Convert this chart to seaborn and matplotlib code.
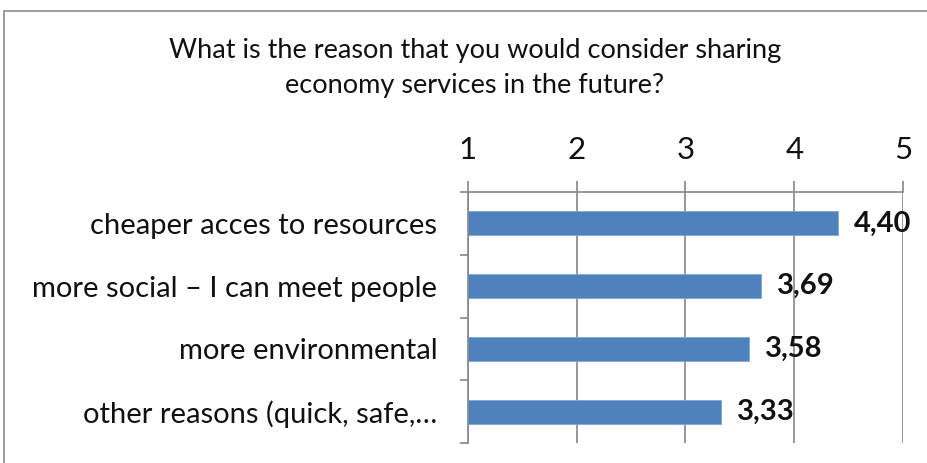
import matplotlib
matplotlib.use("Agg")
import matplotlib.pyplot as plt
import seaborn as sns
import pandas as pd
from matplotlib.patches import Rectangle
from matplotlib.ticker import FixedLocator

categories = ["cheaper acces to resources", "more social \u2013 I can meet people",
              "more environmental", "other reasons (quick, safe,\u2026"]
values = [4.40, 3.69, 3.58, 3.33]
value_labels = ["4,40", "3,69", "3,58", "3,33"]
x_ticks = [1, 2, 3, 4, 5]
title = "What is the reason that you would consider sharing\neconomy services in the future?"

sns.set_theme(style="white")
plt.rcParams["font.family"] = ["Lato", "DejaVu Sans"]

df = pd.DataFrame({"category": categories, "value": values})

fig = plt.figure(figsize=(9.28, 4.63), dpi=100)
ax = fig.add_axes([468 / 928, 1 - 443 / 463, (903 - 468) / 928, (443 - 192) / 463])

sns.barplot(data=df, x="value", y="category", orient="h", color="#4F81BD",
            saturation=1, width=0.38, edgecolor="#7EA6DA", linewidth=0.6, ax=ax)

ax.set_xlim(1, 5)
ax.set_ylim(3.5, -0.5)
ax.set_xticks(x_ticks)
ax.set_xticklabels([str(t) for t in x_ticks])
ax.xaxis.tick_top()
ax.grid(axis="x", color="#868686", linewidth=1.2)
ax.set_axisbelow(True)
ax.tick_params(axis="x", which="major", top=True, bottom=False, length=8, width=1.2,
               color="#868686", labelsize=22.5, pad=12, labelcolor="#111111")
ax.tick_params(axis="y", which="major", left=False, length=0, labelsize=21, pad=22,
               labelcolor="#111111")
ax.yaxis.set_minor_locator(FixedLocator([-0.5, 0.5, 1.5, 2.5, 3.5]))
ax.tick_params(axis="y", which="minor", left=True, length=6, width=1.2, color="#868686")
ax.set_xlabel("")
ax.set_ylabel("")
for s in ["right", "bottom"]:
    ax.spines[s].set_visible(False)
for s in ["top", "left"]:
    ax.spines[s].set_visible(True)
    ax.spines[s].set_color("#868686")
    ax.spines[s].set_linewidth(1.2)

# bars start at the axis minimum (1)
for p, v in zip(ax.patches, values):
    p.set_x(1)
    p.set_width(v - 1)

for i, (v, lab) in enumerate(zip(values, value_labels)):
    ax.annotate(lab, xy=(v, i), xytext=(16, 0), textcoords="offset pixels",
                ha="left", va="center", fontsize=21, fontweight="bold", color="#111111")

fig.text(475 / 928, 1 - 68 / 463, title, ha="center", va="center", fontsize=19.5,
         linespacing=1.5, color="#111111")

fig.patches.append(Rectangle((4 / 928, -0.05), 1.0, 1 - 11 / 463 + 0.05,
                             transform=fig.transFigure, fill=False,
                             edgecolor="#8C8C8C", linewidth=1.2))

fig.savefig("out.png", dpi=100)
